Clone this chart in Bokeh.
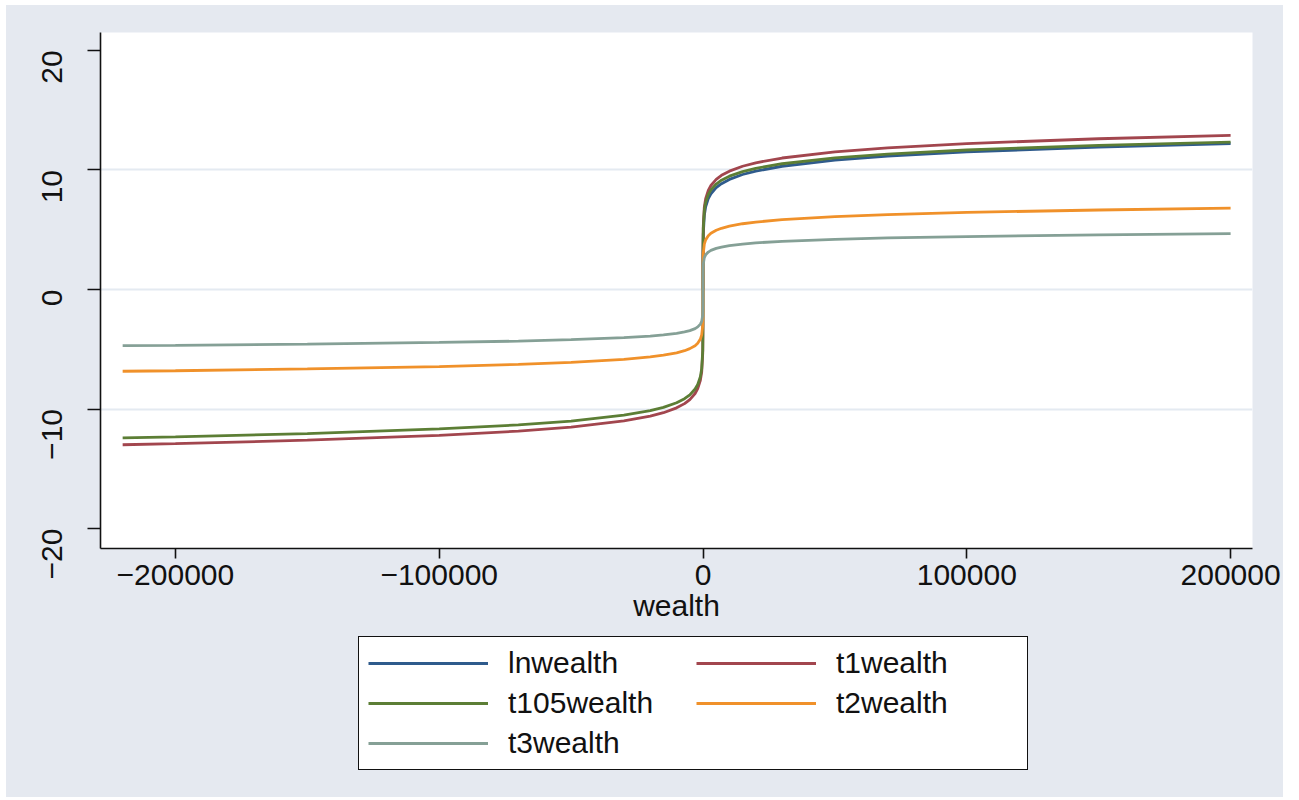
import math
from bokeh.plotting import figure
from bokeh.layouts import column
from bokeh.models import Legend, LegendItem, Range1d, FixedTicker
from bokeh.embed import file_html
from bokeh.resources import INLINE

nan = float("nan")

# ---- data ----
wealth = [-220000, -200000, -150000, -100000, -70000, -50000, -30000, -20000, -15000,
          -10000, -7000, -5000, -3000, -2000, -1000, -500, -100, -10, -1, 0,
          1, 10, 100, 500, 1000, 2000, 3000, 5000, 7000, 10000, 15000, 20000,
          30000, 50000, 70000, 100000, 150000, 200000]

lnwealth = [nan, nan, nan, nan, nan, nan, nan, nan, nan, nan, nan, nan, nan, nan, nan,
            nan, nan, nan, nan, nan,
            0.00, 2.30, 4.61, 6.21, 6.91, 7.60, 8.01, 8.52, 8.85, 9.21, 9.62, 9.90,
            10.31, 10.82, 11.16, 11.51, 11.92, 12.21]

t1wealth = [-12.99, -12.90, -12.61, -12.21, -11.85, -11.51, -11.00, -10.60, -10.31,
            -9.90, -9.55, -9.21, -8.70, -8.29, -7.60, -6.91, -5.30, -3.00, -0.88, 0.00,
            0.88, 3.00, 5.30, 6.91, 7.60, 8.29, 8.70, 9.21, 9.55, 9.90, 10.31, 10.60,
            11.00, 11.51, 11.85, 12.21, 12.61, 12.90]

t105wealth = [-12.42, -12.33, -12.06, -11.67, -11.33, -11.01, -10.52, -10.14, -9.86,
              -9.48, -9.14, -8.82, -8.33, -7.95, -7.29, -6.63, -5.09, -2.90, -0.87, 0.00,
              0.87, 2.90, 5.09, 6.63, 7.29, 7.95, 8.33, 8.82, 9.14, 9.48, 9.86, 10.14,
              10.52, 11.01, 11.33, 11.67, 12.06, 12.33]

t2wealth = [-6.84, -6.80, -6.65, -6.45, -6.27, -6.10, -5.85, -5.64, -5.50,
            -5.30, -5.12, -4.95, -4.70, -4.49, -4.15, -3.80, -3.00, -1.84, -0.72, 0.00,
            0.72, 1.84, 3.00, 3.80, 4.15, 4.49, 4.70, 4.95, 5.12, 5.30, 5.50, 5.64,
            5.85, 6.10, 6.27, 6.45, 6.65, 6.80]

t3wealth = [-4.70, -4.67, -4.57, -4.43, -4.32, -4.20, -4.03, -3.90, -3.80,
            -3.67, -3.55, -3.44, -3.27, -3.13, -2.90, -2.67, -2.13, -1.36, -0.61, 0.00,
            0.61, 1.36, 2.13, 2.67, 2.90, 3.13, 3.27, 3.44, 3.55, 3.67, 3.80, 3.90,
            4.03, 4.20, 4.32, 4.43, 4.57, 4.67]

series_names = ["lnwealth", "t1wealth", "t105wealth", "t2wealth", "t3wealth"]
series_values = [lnwealth, t1wealth, t105wealth, t2wealth, t3wealth]
series_colors = ["#2f5b8c", "#a2464e", "#5c7e35", "#f0912a", "#85a096"]

x_ticks = [-200000, -100000, 0, 100000, 200000]
x_tick_labels = ["\u2212200000", "\u2212100000", "0", "100000", "200000"]
y_ticks = [-20, -10, 0, 10, 20]
y_tick_labels = ["\u221220", "\u221210", "0", "10", "20"]
grid_ticks = [-10, 0, 10]

FONT = "Liberation Sans"
BG = "#e5e9f0"
LW = 2.8

# ---------------- main plot ----------------
p = figure(frame_width=1152, frame_height=516, output_backend="svg", toolbar_location=None,
           x_range=Range1d(-228400, 208300), y_range=Range1d(-21.67, 21.5),
           min_border_left=94, min_border_right=31, min_border_top=27,
           min_border_bottom=86)
p.border_fill_color = BG
p.background_fill_color = "white"
p.outline_line_color = None

for name, vals, col in zip(series_names, series_values, series_colors):
    p.line(wealth, vals, line_color=col, line_width=LW)

xa = p.xaxis[0]
xa.ticker = FixedTicker(ticks=x_ticks)
xa.major_label_overrides = dict(zip(x_ticks, x_tick_labels))
xa.axis_label = "wealth"
ya = p.yaxis[0]
ya.ticker = FixedTicker(ticks=y_ticks)
ya.major_label_overrides = dict(zip(y_ticks, y_tick_labels))
ya.major_label_orientation = math.pi / 2

for ax in (xa, ya):
    ax.axis_line_color = "#111111"
    ax.axis_line_width = 1.6
    ax.major_tick_line_color = "#111111"
    ax.major_tick_line_width = 1.6
    ax.major_tick_in = 0
    ax.minor_tick_line_color = None
    ax.major_label_text_font = FONT
    ax.major_label_text_font_size = "30px"
    ax.major_label_text_color = "#111111"
    ax.axis_label_text_font = FONT
    ax.axis_label_text_font_size = "30px"
    ax.axis_label_text_font_style = "normal"
    ax.axis_label_text_color = "#111111"

xa.major_tick_out = 10
xa.major_label_standoff = 6
xa.axis_label_standoff = 1
ya.major_tick_out = 13
ya.major_label_standoff = 35

p.xgrid.grid_line_color = None
p.ygrid.ticker = FixedTicker(ticks=grid_ticks)
p.ygrid.grid_line_color = "#e4eaf1"
p.ygrid.grid_line_width = 2

# ---------------- legend strip (same series, drawn out of view) ----------------
q = figure(width=1277, height=163, output_backend="svg", toolbar_location=None,
           x_axis_type=None, y_axis_type=None, min_border=0,
           x_range=Range1d(1e9, 2e9), y_range=Range1d(0, 1))
q.border_fill_color = BG
q.background_fill_color = BG
q.outline_line_color = None
q.grid.visible = False

leg_renderers = []
for name, vals, col in zip(series_names, series_values, series_colors):
    leg_renderers.append(q.line(wealth, vals, line_color=col, line_width=LW))

items = [LegendItem(label=n, renderers=[r]) for n, r in zip(series_names, leg_renderers)]
legend = Legend(items=items, orientation="horizontal", ncols=2,
                location=(258, 27), margin=0, padding=9, spacing=6,
                glyph_width=120, glyph_height=22, label_height=22,
                label_width=182, label_standoff=20,
                label_text_font=FONT, label_text_font_size="30px",
                label_text_color="#111111",
                border_line_color="#111111", border_line_width=1.6,
                border_line_alpha=1.0,
                background_fill_color="white", background_fill_alpha=1.0)
q.add_layout(legend, "center")

layout = column(p, q, spacing=0)
layout.margin = (5, 0, 0, 6)
layout.styles = {"background-color": BG}

open("out.html", "w").write(file_html(layout, INLINE))
